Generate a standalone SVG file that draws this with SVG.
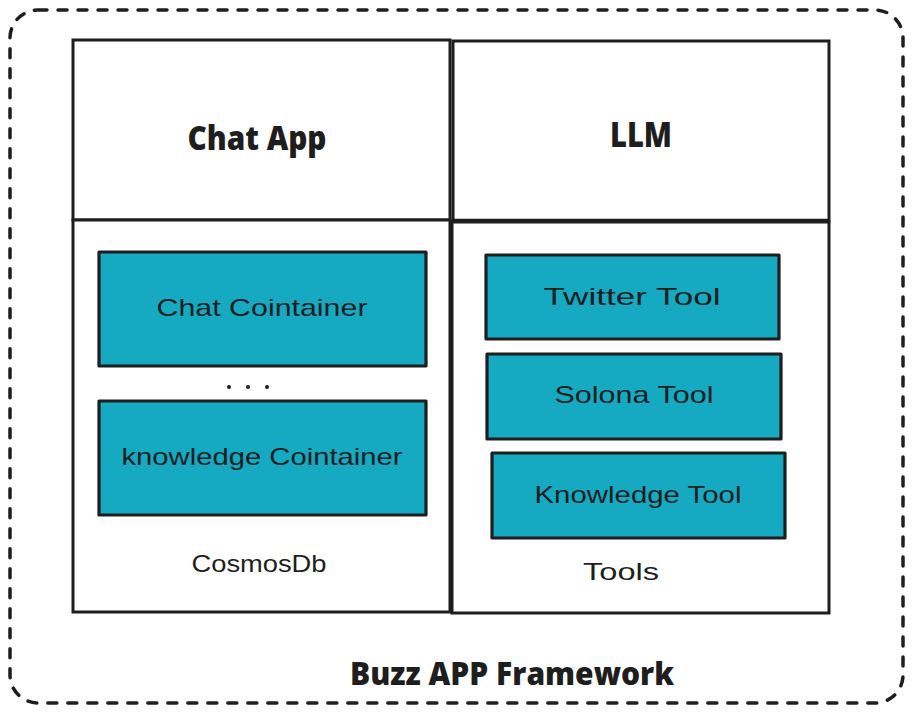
<svg xmlns="http://www.w3.org/2000/svg" width="914" height="715" viewBox="0 0 914 715">
<style>
.frame{fill:none;stroke:#1e1e1e;stroke-width:3.5;stroke-dasharray:9 11;stroke-linecap:round}
.box{fill:#ffffff;stroke:#1e1e1e;stroke-width:3}
.item{fill:#15a9c2;stroke:#1e1e1e;stroke-width:3.2;stroke-linejoin:round}
.title{font-family:"Open Sans","Liberation Sans",sans-serif;font-weight:800;fill:#1e1e1e;text-anchor:middle}
.hand{font-family:"Liberation Sans","DejaVu Sans",sans-serif;fill:#1e1e1e;text-anchor:middle}
</style>
<rect width="914" height="715" fill="#ffffff"/>
<g id="framework">
<rect class="frame" x="10" y="10" width="893" height="693" rx="28" ry="28"/>
<text class="title" x="512" y="685" font-size="32" textLength="324" lengthAdjust="spacingAndGlyphs">Buzz APP Framework</text>
</g>
<g id="chat-app">
<rect class="box" x="73" y="40" width="377" height="180"/>
<text class="title" x="257" y="150" font-size="34" textLength="139" lengthAdjust="spacingAndGlyphs">Chat App</text>
</g>
<g id="llm">
<rect class="box" x="453" y="41" width="376" height="180"/>
<line x1="453" y1="221" x2="829" y2="221" stroke="#1e1e1e" stroke-width="4.5"/>
<text class="title" x="641" y="147" font-size="36" textLength="62" lengthAdjust="spacingAndGlyphs">LLM</text>
</g>
<g id="cosmosdb">
<rect class="box" x="73" y="220" width="377" height="392"/>
<text class="hand" x="259" y="572" font-size="24" textLength="135" lengthAdjust="spacingAndGlyphs">CosmosDb</text>
</g>
<g id="tools">
<rect class="box" x="452" y="222" width="377" height="391"/>
<text class="hand" x="621" y="580" font-size="24" textLength="76" lengthAdjust="spacingAndGlyphs">Tools</text>
</g>
<g id="chat-cointainer">
<rect class="item" x="99" y="252" width="327" height="114"/>
<text class="hand" x="262" y="316" font-size="24" textLength="211" lengthAdjust="spacingAndGlyphs">Chat Cointainer</text>
</g>
<g id="ellipsis">
<circle cx="229" cy="387" r="2" fill="#1e1e1e"/>
<circle cx="248" cy="387" r="2" fill="#1e1e1e"/>
<circle cx="267" cy="387" r="2" fill="#1e1e1e"/>
</g>
<g id="knowledge-cointainer">
<rect class="item" x="99" y="401" width="327" height="114"/>
<text class="hand" x="262" y="465" font-size="24" textLength="281" lengthAdjust="spacingAndGlyphs">knowledge Cointainer</text>
</g>
<g id="twitter-tool">
<rect class="item" x="486" y="255" width="293" height="84"/>
<text class="hand" x="632" y="305" font-size="24" textLength="177" lengthAdjust="spacingAndGlyphs">Twitter Tool</text>
</g>
<g id="solona-tool">
<rect class="item" x="487" y="354" width="294" height="85"/>
<text class="hand" x="634" y="403" font-size="24" textLength="159" lengthAdjust="spacingAndGlyphs">Solona Tool</text>
</g>
<g id="knowledge-tool">
<rect class="item" x="492" y="453" width="293" height="85"/>
<text class="hand" x="638" y="503" font-size="24" textLength="207" lengthAdjust="spacingAndGlyphs">Knowledge Tool</text>
</g>
<g id="connectors"></g>
</svg>
